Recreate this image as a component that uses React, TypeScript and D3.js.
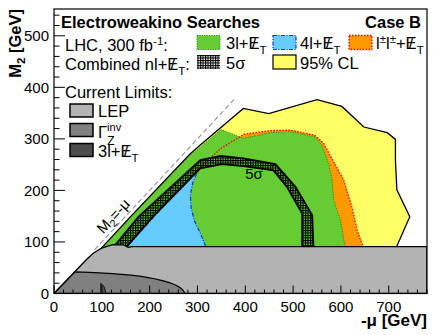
import React from "react";
import * as d3 from "d3";

type P = [number, number];

// ---------- data (GeV) ----------
const xTickValues = [0, 100, 200, 300, 400, 500, 600, 700];
const yTickValues = [0, 100, 200, 300, 400, 500];
const xDomain: P = [0, 780];
const yDomain: P = [0, 552];

// 95% CL combined (yellow)
const yellow95: P[] = [
  [95, 70], [95, 84], [161, 150], [285, 271], [306, 288], [349, 322], [396, 359], [449, 349],
  [550, 376], [602, 363], [648, 323], [697, 312], [714, 299], [714, 259], [717, 201],
  [744, 149], [717, 92], [717, 70],
];
// l±l± + MET (orange, red dotted)
const orangeSS: P[] = [
  [148, 70], [152, 91], [207, 149], [306, 244], [348, 281], [389, 304], [396, 309],
  [452, 316], [494, 317], [546, 307], [564, 291], [581, 262], [606, 220], [623, 168],
  [634, 123], [646, 92], [648, 70],
];
// 3l + MET (green)
const green3l: P[] = [
  [97, 70], [97, 84], [161, 148], [285, 268], [306, 284], [349, 318], [396, 301],
  [452, 312], [494, 314], [546, 304], [560, 288], [574, 252], [581, 223], [585, 181],
  [599, 142], [608, 94], [610, 70],
];
// 4l + MET (blue)
const blue4l: P[] = [
  [145, 70], [150, 88], [207, 147], [300, 240], [296, 228], [290, 215], [285, 190],
  [287, 165], [294, 140], [306, 117], [316, 94], [318, 70],
];
// 5 sigma band
const bandOuter: P[] = [
  [118, 80], [128, 94], [177, 149], [306, 259], [348, 267], [396, 262], [463, 251],
  [505, 207], [540, 152], [543, 80],
];
const bandInner: P[] = [
  [148, 80], [152, 91], [207, 149], [306, 243], [351, 251], [396, 247], [459, 239],
  [487, 207], [519, 155], [519, 80],
];
// current limits
const lepLimit: P[] = [
  [0, 0], [68, 66], [82, 78], [92, 84], [100, 88], [112, 92], [124, 95], [145, 94.5],
  [152, 91], [156, 89.5], [162, 91], [780, 91], [780, 0],
];
const gammaZCorner: P = [44, 42];
const gammaZCurve: P[] = [[44, 42], [96, 40], [166, 35], [222, 26], [255, 16], [268, 8], [274, 0]];
const trilepLimit: P[] = [[97.7, 0], [97.7, 19.6], [101, 17.5], [104.7, 13], [107, 7], [109, 0]];
const diagonalRange: P = [85, 380];
const diagonalLabelAt = 138;
const sigmaLabelAt: P = [400, 222];

// ---------- style ----------
const FONT = "'Liberation Sans', Arial, Helvetica, sans-serif";
const C_YELLOW = "#ffff66";
const C_GREEN = "#66cc33";
const C_BLUE = "#66ccff";
const C_ORANGE = "#ff9900";
const C_LEP = "#b3b3b3";
const C_GZ = "#808080";
const C_3L = "#4d4d4d";

const x = d3.scaleLinear().domain(xDomain).range([54, 427]);
const y = d3.scaleLinear().domain(yDomain).range([293.5, 9]);

const lin = d3.line<P>().x((d) => x(d[0])).y((d) => y(d[1]));
const smooth = d3.line<P>().x((d) => x(d[0])).y((d) => y(d[1])).curve(d3.curveCatmullRom);
const closed = (pts: P[]) => lin(pts) + "Z";

function Met({ fs }: { fs: number }) {
  return (
    <>
      <tspan>E</tspan>
      <tspan dx={-0.472 * fs}>/</tspan>
      <tspan dx={0.194 * fs} dy={0.3 * fs} fontSize={0.7 * fs}>T</tspan>
    </>
  );
}

export default function App() {
  const fs = 16.5;
  const bandPath = lin(bandOuter) + "L" + lin([...bandInner].reverse())!.slice(1) + "Z";
  const gzPath =
    `M${x(0)},${y(0)}L${x(gammaZCorner[0])},${y(gammaZCorner[1])}` +
    "L" + smooth(gammaZCurve)!.slice(1) + "Z";
  const angle = (Math.atan2(y(1) - y(0), x(1) - x(0)) * 180) / Math.PI;
  const xMinor = d3.range(0, 781, 20);
  const yMinor = d3.range(0, 552, 20);

  return (
    <svg
      width={433}
      height={335}
      style={{ position: "absolute", left: 0, top: 0, background: "#fff" }}
      fontFamily={FONT}
    >
      <defs>
        <clipPath id="frame">
          <rect x={54} y={9} width={373} height={284.5} />
        </clipPath>
        <pattern id="hatch" patternUnits="userSpaceOnUse" width={2.5} height={2.5}>
          <rect x={0} y={0} width={2.5} height={1} fill="#000" />
          <rect x={0} y={0} width={1.1} height={2.5} fill="#000" />
        </pattern>
      </defs>
      <rect x={0} y={0} width={433} height={335} fill="#fff" />

      <g clipPath="url(#frame)">
        <path d={closed(yellow95)} fill={C_YELLOW} />
        <path d={closed(orangeSS)} fill={C_ORANGE} />
        <path d={closed(green3l)} fill={C_GREEN} />
        <path d={closed(blue4l)} fill={C_BLUE} />
        <path d={closed(yellow95)} fill="none" stroke="#000" strokeWidth={1.3} />
        <path d={closed(green3l)} fill="none" stroke="#2d8a1e" strokeWidth={1} strokeDasharray="1.2,1.2" />
        <path d={closed(blue4l)} fill="none" stroke="#0033ff" strokeWidth={1.2} strokeDasharray="4,1.5,1,1.5" />
        <path d={closed(orangeSS)} fill="none" stroke="#ff0000" strokeWidth={1.3} strokeDasharray="1.5,1.5" />
        <path d={bandPath} fill="url(#hatch)" stroke="#000" strokeWidth={1.8} />
        <path d={closed(lepLimit)} fill={C_LEP} stroke="#000" strokeWidth={1.3} />
        <path d={gzPath} fill={C_GZ} stroke="#000" strokeWidth={1.3} />
        <path d={closed(trilepLimit)} fill={C_3L} stroke="#000" strokeWidth={0.8} />
        <line
          x1={x(diagonalRange[0])} y1={y(diagonalRange[0])}
          x2={x(diagonalRange[1])} y2={y(diagonalRange[1])}
          stroke="#999" strokeWidth={1.2} strokeDasharray="5,3"
        />
      </g>

      <g transform={`translate(${x(diagonalLabelAt)},${y(diagonalLabelAt)}) rotate(${angle})`}>
        <text x={0} y={-4} textAnchor="middle" fontSize={15}>
          M<tspan dy={3.5} fontSize={10.5}>2</tspan><tspan dy={-3.5}>=-μ</tspan>
        </text>
      </g>
      <text x={x(sigmaLabelAt[0])} y={y(sigmaLabelAt[1])} fontSize={15}>5σ</text>

      {/* frame and ticks */}
      <rect x={54} y={9} width={373} height={284.5} fill="none" stroke="#000" strokeWidth={1.2} />
      {xMinor.map((v) => (
        <line key={"xm" + v} x1={x(v)} x2={x(v)} y1={293.5} y2={293.5 - (v % 100 === 0 ? 8 : 4)} stroke="#000" strokeWidth={1} />
      ))}
      {yMinor.map((v) => (
        <line key={"ym" + v} x1={54} x2={54 + (v % 100 === 0 ? 11 : 5.5)} y1={y(v)} y2={y(v)} stroke="#000" strokeWidth={1} />
      ))}
      {xTickValues.map((v) => (
        <text key={"xl" + v} x={x(v)} y={311.5} textAnchor="middle" fontSize={15}>{v}</text>
      ))}
      {yTickValues.map((v) => (
        <text key={"yl" + v} x={49} y={y(v) + 5.4} textAnchor="end" fontSize={15}>{v}</text>
      ))}
      <text x={427} y={326} textAnchor="end" fontSize={17} fontWeight="bold">-μ [GeV]</text>
      <text transform="translate(21,9) rotate(-90)" textAnchor="end" fontSize={16.5} fontWeight="bold">
        M<tspan dy={4} fontSize={11.5}>2</tspan><tspan dy={-4}> [GeV]</tspan>
      </text>

      {/* legend */}
      <text x={61} y={27.5} fontSize={fs} fontWeight="bold">Electroweakino Searches</text>
      <text x={421} y={27.5} fontSize={fs} fontWeight="bold" textAnchor="end">Case B</text>
      <text x={65} y={51} fontSize={fs}>
        LHC, 300 fb<tspan dy={-6.5} fontSize={11.5}>-1</tspan><tspan dy={6.5}>:</tspan>
      </text>
      <text x={65} y={70} fontSize={fs}>
        Combined nl+<Met fs={fs} /><tspan dy={-0.3 * fs}>:</tspan>
      </text>
      <text x={65} y={98} fontSize={fs}>Current Limits:</text>

      <rect x={197} y={35.5} width={23} height={14} fill={C_GREEN} stroke="#2d8a1e" strokeWidth={1} strokeDasharray="1.2,1.2" />
      <text x={226} y={49} fontSize={fs}>3l+<Met fs={fs} /></text>
      <rect x={273} y={35.5} width={23} height={14} fill={C_BLUE} stroke="#0033ff" strokeWidth={1.2} strokeDasharray="4,1.5,1,1.5" />
      <text x={300} y={49} fontSize={fs}>4l+<Met fs={fs} /></text>
      <rect x={349} y={35.5} width={23} height={14} fill={C_ORANGE} stroke="#ff0000" strokeWidth={1.3} strokeDasharray="1.5,1.5" />
      <text x={376} y={49} fontSize={fs}>
        l<tspan dy={-6} fontSize={11.5}>±</tspan><tspan dy={6}>l</tspan><tspan dy={-6} fontSize={11.5}>±</tspan><tspan dy={6}>+</tspan><Met fs={fs} />
      </text>
      <rect x={197} y={55} width={23} height={14} fill="url(#hatch)" />
      <text x={226} y={68.5} fontSize={fs}>5σ</text>
      <rect x={273} y={55} width={23} height={14} fill={C_YELLOW} stroke="#000" strokeWidth={1.2} />
      <text x={300} y={68.5} fontSize={fs}>95% CL</text>

      <rect x={70} y={104} width={23} height={13} fill={C_LEP} stroke="#000" strokeWidth={1.5} />
      <text x={98} y={117} fontSize={fs}>LEP</text>
      <rect x={70} y={123.5} width={23} height={13} fill={C_GZ} stroke="#000" strokeWidth={1.5} />
      <text x={98} y={137.5} fontSize={fs}>
        Γ<tspan dy={-7} fontSize={11}>inv</tspan><tspan dx={-14} dy={14} fontSize={12}>Z</tspan>
      </text>
      <rect x={70} y={143.5} width={23} height={13} fill={C_3L} stroke="#000" strokeWidth={1.5} />
      <text x={98} y={157} fontSize={fs}>3l+<Met fs={fs} /></text>
    </svg>
  );
}
